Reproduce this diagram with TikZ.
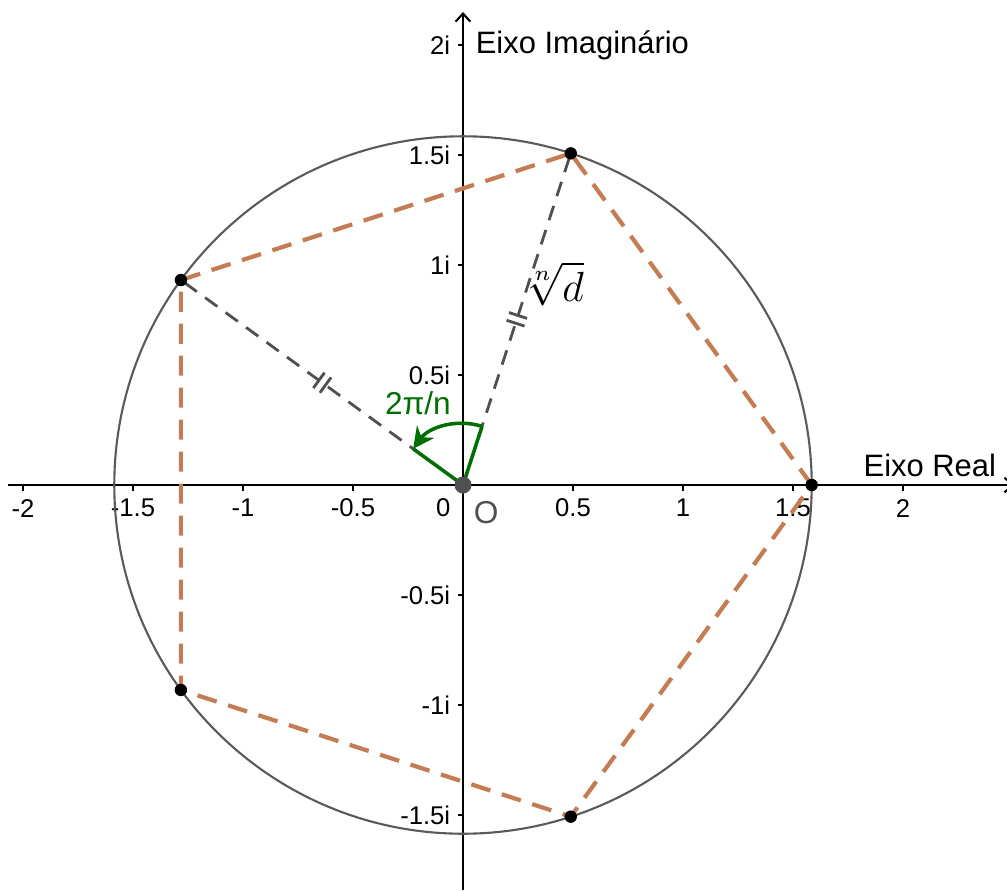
\documentclass[tikz,border=0pt]{standalone}
\usepackage{fontspec}
\setmainfont{Liberation Sans}
\usepackage{amsmath}
\usetikzlibrary{arrows.meta,decorations.markings}

\definecolor{edgebrown}{RGB}{196,124,84}
\definecolor{radgray}{RGB}{80,80,80}
\definecolor{circgray}{RGB}{90,90,90}
\definecolor{anglegreen}{RGB}{0,110,0}

\tikzset{
  axis/.style={line width=0.6pt,-{Straight Barb[length=2.3pt,width=4.2pt]}},
  tick/.style={line width=0.6pt},
  ticklabel/.style={font=\fontsize{7.3}{9}\selectfont,inner sep=0pt},
  axislabel/.style={font=\fontsize{8.8}{10}\selectfont,inner sep=0pt,anchor=west},
  side/.style={draw=edgebrown,line width=1.2pt,dash pattern=on 5.7pt off 3.4pt},
  radline/.style={draw=radgray,line width=0.8pt,dash pattern=on 4.3pt off 2.9pt,
    postaction={decorate,decoration={markings,mark=at position 0.5 with {
      \draw[solid,line width=0.8pt] (-1.15pt,-2.7pt) -- (-1.15pt,2.7pt)
        (1.15pt,-2.7pt) -- (1.15pt,2.7pt);}}}},
  angleline/.style={draw=anglegreen,line width=1pt},
  vertexdot/.style={fill=black}
}

\begin{document}
\begin{tikzpicture}[x=2.2cm,y=2.2cm]
  \useasboundingbox (-2.1045,-1.8409) rectangle (2.4727,2.2045);
  \clip (-2.1045,-1.8409) rectangle (2.4727,2.2045);

  % axes
  \coordinate (O) at (0,0);
  \coordinate (xl) at (-2.068,0);
  \coordinate (xr) at (2.505,0);
  \coordinate (yb) at (0,-1.8409);
  \coordinate (yt) at (0,2.15);
  \draw[axis] (xl) -- (xr);
  \draw[axis] (yb) -- (yt);
  \node[axislabel] (re) at (1.818,0.091) {Eixo Real};
  \node[axislabel] (im) at (0.055,2.0) {Eixo Imaginário};

  \foreach \x [count=\i] in {-2,-1.5,-1,-0.5,0.5,1,1.5,2} {
    \draw[tick] (\x,0) -- ++(0,-0.025);
    \node[ticklabel] (xt\i) at (\x,-0.105) {\x};
  }
  \node[ticklabel] (xt0) at (-0.09,-0.105) {0};
  \foreach \y [count=\i] in {-1.5,-1,-0.5,0.5,1,1.5,2} {
    \draw[tick] (0,\y) -- ++(-0.025,0);
    \node[ticklabel,anchor=east] (yt\i) at (-0.055,\y) {\y i};
  }

  % circle and pentagon
  \foreach \k in {0,...,4}
    \coordinate (P\k) at (72*\k:1.585);
  \draw[circgray,line width=0.6pt] (O) circle (1.585);
  \draw[side] (P0) -- (P1) -- (P2) -- (P3) -- (P4) -- cycle;

  % radii
  \draw[radline] (O) -- (P1);
  \draw[radline] (O) -- (P2);
  \node[font=\fontsize{13}{15}\selectfont] (root) at (0.41,0.915) {$\sqrt[n]{d}$};

  % angle
  \coordinate (A1) at (72:0.28);
  \coordinate (A2) at (144:0.28);
  \draw[angleline] (O) -- (A1);
  \draw[angleline] (O) -- (A2);
  \draw[angleline,-{Stealth[length=6pt,width=6pt]}] (A1) arc[start angle=72,end angle=144,radius=0.28];
  \node[text=anglegreen,font=\fontsize{9}{11}\selectfont] (ang) at (-0.205,0.373) {2π/n};

  % points
  \foreach \k in {0,...,4}
    \fill[vertexdot] (P\k) circle (0.062cm);
  \fill[radgray] (O) circle (0.085cm);
  \node[text=radgray,font=\fontsize{9}{11}\selectfont] (olabel) at (0.105,-0.125) {O};
\end{tikzpicture}
\end{document}
